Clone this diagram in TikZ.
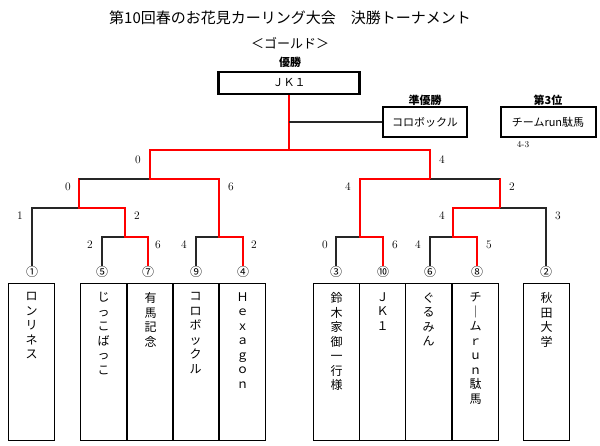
\documentclass[tikz,border=0pt]{standalone}
\usepackage{fontspec}
\newfontfamily\cjk{Noto Sans CJK JP}
\usetikzlibrary{positioning}
\tikzset{
  win/.style={red,line width=2.2pt},
  lose/.style={black!85,line width=1.2pt},
  team/.style={draw,line width=1.2pt,minimum width=46pt,minimum height=157pt,anchor=north west},
  teamname/.style={anchor=north,align=center,font=\cjk\fontsize{12}{14.5}\selectfont},
  score/.style={font=\fontsize{11.5}{13}\selectfont},
  seed/.style={font=\cjk\fontsize{12}{13}\selectfont,inner sep=0pt},
  prize/.style={draw,line width=2pt,minimum height=30pt,font=\cjk\fontsize{11}{13}\selectfont},
  prizelabel/.style={font=\cjk\bfseries\fontsize{11}{13}\selectfont}
}
\begin{document}
\begin{tikzpicture}[x=1pt,y=-1pt]
  \useasboundingbox (0,0) rectangle (600,446);
  %%%%% TITLE
  \node[font=\cjk\fontsize{15}{17}\selectfont] (title) at (290,18) {第10回春のお花見カーリング大会\quad 決勝トーナメント};
  \node[font=\cjk\fontsize{13}{15}\selectfont] (gold) at (290,43) {＜ゴールド＞};
  %%%%% PRIZES
  \node[prizelabel] (lbl1) at (290,62) {優勝};
  \node[prize,line width=2.6pt,minimum width=141pt,minimum height=22pt] (champ) at (289,83) {ＪＫ１};
  \node[prizelabel] (lbl2) at (425,100) {準優勝};
  \node[prize,minimum width=84pt] (second) at (425,122) {コロボックル};
  \node[prizelabel] (lbl3) at (548,100) {第3位};
  \node[prize,minimum width=95pt] (third) at (548,122) {チームrun駄馬};
  \node[score,font=\fontsize{9}{10}\selectfont] (tsc) at (523,145) {4-3};
  %%%%% TEAMS
  \foreach \x/\t [count=\i] in {8/{ロ\\ン\\リ\\ネ\\ス},80/{じ\\っ\\こ\\ば\\っ\\こ},127/{有\\馬\\記\\念},
      172/{コ\\ロ\\ボ\\ッ\\ク\\ル},219/{Ｈ\\ｅ\\ｘ\\ａ\\ｇ\\ｏ\\ｎ},313/{鈴\\木\\家\\御\\一\\行\\様},
      359/{Ｊ\\Ｋ\\１},405/{ぐ\\る\\み\\ん},452/{チ\\｜\\ム\\ｒ\\ｕ\\ｎ\\駄\\馬},523/{秋\\田\\大\\学}}{
    \node[team] (box\i) at (\x,283) {};
    \node[teamname] at ([yshift=-6pt]box\i.north) {\t};
  }
  \foreach \x/\s [count=\i] in {32/①,102/⑤,148/⑦,196/⑨,243/④,336/③,383/⑩,430/⑥,477/⑧,546/②}
    \node[seed] (s\i) at (\x,272) {\s};
  %%%%% BRACKET LEFT
  \draw[lose] (s1.north) |- (79,208);
  \draw[lose] (s2.north) |- (125,237);
  \draw[win] (s3.north) |- (125,237) |- (79,208) |- (150,179);
  \draw[lose] (79,179) -- (150,179);
  \draw[lose] (s4.north) |- (219,237);
  \draw[win] (s5.north) |- (219,237) |- (150,179) |- (289,150);
  %%%%% BRACKET RIGHT
  \draw[lose] (s6.north) |- (360,237);
  \draw[win] (s7.north) |- (360,237) |- (430,179);
  \draw[lose] (s8.north) |- (453,237);
  \draw[win] (s9.north) |- (453,237) |- (500,208) |- (430,179);
  \draw[lose] (500,208) -- (546,208) -- (s10.north);
  \draw[lose] (430,179) -- (500,179);
  \draw[win] (500,179) -- (500,208);
  \draw[win] (430,179) -- (430,150) -- (289,150) -- (champ.south);
  \draw[lose] (289,122) -- (second.west);
  %%%%% SCORES
  \foreach \x/\y/\v in {138/160/0,442/160/4,68/187/0,231/187/6,348/187/4,512/187/2,
      20/216/1,137/216/2,442/216/4,558/216/3,90/245/2,158/245/6,184/245/4,254/245/2,
      325/245/0,395/245/6,418/245/4,489/245/5}
    \node[score] at (\x,\y) {\v};
\end{tikzpicture}
\end{document}
